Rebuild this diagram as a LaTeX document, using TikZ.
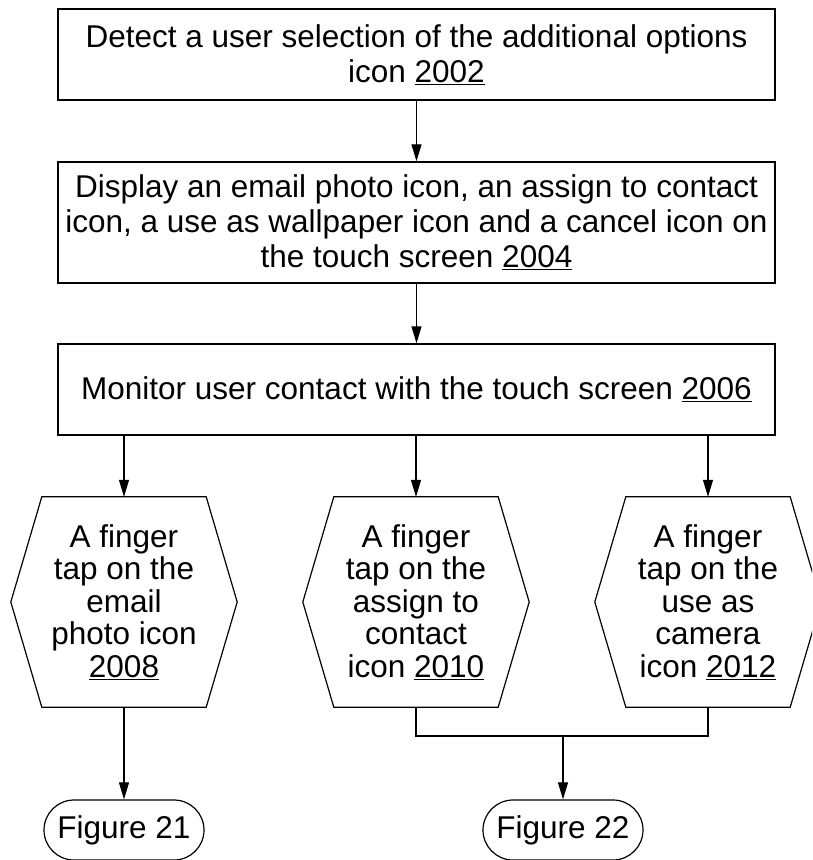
\documentclass[tikz,border=0pt]{standalone}
\usepackage{fontspec}
\setmainfont{Liberation Sans}
\usetikzlibrary{arrows.meta,calc}
\begin{document}
\begin{tikzpicture}[x=1pt,y=-1pt,
  every node/.style={font=\fontsize{31.5}{35}\selectfont, align=center, inner sep=0pt},
  hextext/.style={font=\fontsize{31.5}{32.5}\selectfont},
  stepbox/.style={draw, line width=1.4pt, minimum width=717pt},
  hexnode/.style={hextext, minimum width=226pt, minimum height=210pt},
  hexline/.style={line width=1.2pt},
  flow/.style={-{Triangle[length=17pt,width=10pt]}, line width=1.1pt},
  joinline/.style={line width=1.1pt},
  term/.style={draw, rounded corners=30pt, line width=1.2pt, minimum width=160pt, minimum height=60pt}]
\useasboundingbox (0,0) rectangle (812,860);
\clip (0,0) rectangle (812,860);
\node[stepbox, minimum height=91pt] (b1) at (416.5,54.5) {Detect a user selection of the additional options\\icon \underline{2002}};
\node[stepbox, minimum height=121pt] (b2) at (416.5,222.5) {Display an email photo icon, an assign to contact\\icon, a use as wallpaper icon and a cancel icon on\\the touch screen \underline{2004}};
\node[stepbox, minimum height=91pt] (b3) at (416.5,389.5) {Monitor user contact with the touch screen \underline{2006}};
\node[hexnode] (h1) at (124,602) {A finger\\tap on the\\email\\photo icon\\\underline{2008}};
\node[hexnode] (h2) at (416,602) {A finger\\tap on the\\assign to\\contact\\icon \underline{2010}};
\node[hexnode] (h3) at (708,602) {A finger\\tap on the\\use as\\camera\\icon \underline{2012}};
\foreach \h in {h1,h2,h3}{
  \draw[hexline] ($(\h.north west)+(31,0)$) -- ($(\h.north east)+(-31,0)$) -- (\h.east)
    -- ($(\h.south east)+(-31,0)$) -- ($(\h.south west)+(31,0)$) -- (\h.west) -- cycle;
}
\node[term] (t1) at (124,830) {Figure 21};
\node[term] (t2) at (563,830) {Figure 22};
\coordinate (j) at (563,736);
\draw[flow] (b1) -- (b2);
\draw[flow] (b2) -- (b3);
\draw[flow] (b3.south -| h1.north) -- (h1.north);
\draw[flow] (b3.south -| h2.north) -- (h2.north);
\draw[flow] (b3.south -| h3.north) -- (h3.north);
\draw[flow] (h1.south) -- (t1.north);
\draw[joinline] (h2.south) |- (j) -| (h3.south);
\draw[flow] (j) -- (t2.north);
\end{tikzpicture}
\end{document}
